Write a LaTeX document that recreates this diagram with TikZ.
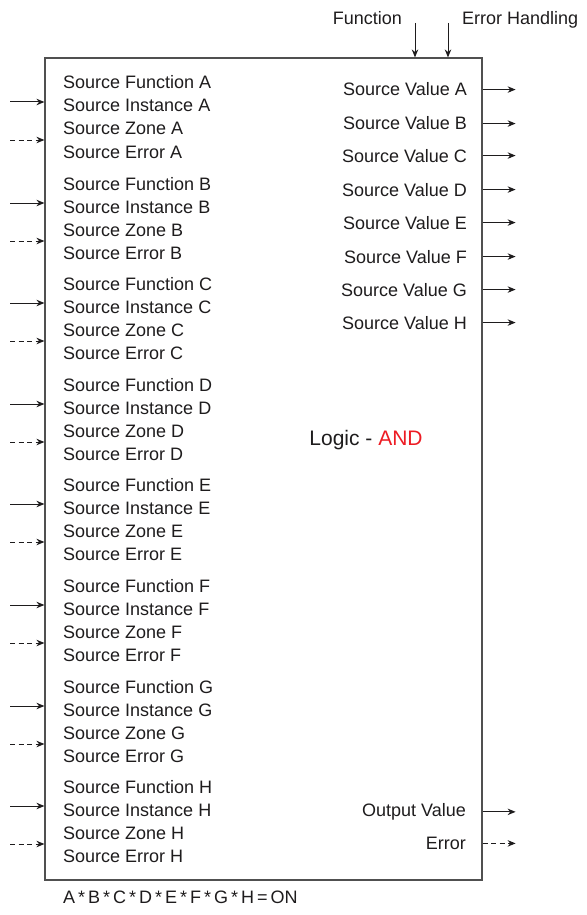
\documentclass[tikz,border=0pt]{standalone}
\usepackage{fontspec}
\setmainfont{Liberation Sans}
\usepackage{xcolor}
\usetikzlibrary{arrows.meta, calc}
\definecolor{txt}{RGB}{30,28,29}
\definecolor{frame}{RGB}{80,80,80}
\definecolor{andred}{RGB}{237,28,36}
\tikzset{
    box/.style={draw=frame, line width=1.2pt, minimum width=437pt, minimum height=822pt, inner sep=0pt},
    src/.style={font=\fontsize{18}{22}\selectfont, text=txt, inner sep=0pt, anchor=base west},
    val/.style={font=\fontsize{18}{22}\selectfont, text=txt, inner sep=0pt, anchor=base east},
    sig/.style={-{Stealth[length=8pt, width=6.5pt]}, line width=1pt, draw=txt},
    errsig/.style={sig, dash pattern=on 5pt off 3.5pt}
}

\begin{document}
\begin{tikzpicture}[x=1pt, y=-1pt]
        \useasboundingbox (0,0) rectangle (586,915);
        \node[box] (logic) at (263.5,469) {};
        \node[font=\fontsize{21}{25}\selectfont, text=txt, inner sep=0pt, anchor=base] (op) at (366,445.5) {Logic - \textcolor{andred}{AND}};

        % top inputs
        \node[val] (fn) at (402,24.5) {Function};
        \node[src] (eh) at (462,24.5) {Error Handling};
        \coordinate (fnIn) at (415,23);
        \coordinate (ehIn) at (448,23);
        \draw[sig] (fnIn) -- (fnIn |- logic.north);
        \draw[sig] (ehIn) -- (ehIn |- logic.north);

        % left inputs
        \node[src] (fA) at (63,89) {Source Function A};
        \node[src] (iA) at (63,112) {Source Instance A};
        \node[src] (zA) at (63,135) {Source Zone A};
        \node[src] (eA) at (63,158) {Source Error A};
        \node[src] (fB) at (63,190) {Source Function B};
        \node[src] (iB) at (63,213) {Source Instance B};
        \node[src] (zB) at (63,236) {Source Zone B};
        \node[src] (eB) at (63,259) {Source Error B};
        \node[src] (fC) at (63,290) {Source Function C};
        \node[src] (iC) at (63,313) {Source Instance C};
        \node[src] (zC) at (63,336) {Source Zone C};
        \node[src] (eC) at (63,359) {Source Error C};
        \node[src] (fD) at (63,391) {Source Function D};
        \node[src] (iD) at (63,414) {Source Instance D};
        \node[src] (zD) at (63,437) {Source Zone D};
        \node[src] (eD) at (63,460) {Source Error D};
        \node[src] (fE) at (63,491) {Source Function E};
        \node[src] (iE) at (63,514) {Source Instance E};
        \node[src] (zE) at (63,537) {Source Zone E};
        \node[src] (eE) at (63,560) {Source Error E};
        \node[src] (fF) at (63,592) {Source Function F};
        \node[src] (iF) at (63,615) {Source Instance F};
        \node[src] (zF) at (63,638) {Source Zone F};
        \node[src] (eF) at (63,661) {Source Error F};
        \node[src] (fG) at (63,693) {Source Function G};
        \node[src] (iG) at (63,716) {Source Instance G};
        \node[src] (zG) at (63,739) {Source Zone G};
        \node[src] (eG) at (63,762) {Source Error G};
        \node[src] (fH) at (63,793) {Source Function H};
        \node[src] (iH) at (63,816) {Source Instance H};
        \node[src] (zH) at (63,839) {Source Zone H};
        \node[src] (eH) at (63,862) {Source Error H};

        \coordinate (inA) at (10,102);  \coordinate (erA) at (10,140);
        \coordinate (inB) at (10,203);  \coordinate (erB) at (10,241);
        \coordinate (inC) at (10,303);  \coordinate (erC) at (10,341);
        \coordinate (inD) at (10,404);  \coordinate (erD) at (10,442);
        \coordinate (inE) at (10,504);  \coordinate (erE) at (10,542);
        \coordinate (inF) at (10,605);  \coordinate (erF) at (10,643);
        \coordinate (inG) at (10,706);  \coordinate (erG) at (10,744);
        \coordinate (inH) at (10,806);  \coordinate (erH) at (10,844);
        \draw[sig] (inA) -- (inA -| logic.west);
        \draw[errsig] (erA) -- (erA -| logic.west);
        \draw[sig] (inB) -- (inB -| logic.west);
        \draw[errsig] (erB) -- (erB -| logic.west);
        \draw[sig] (inC) -- (inC -| logic.west);
        \draw[errsig] (erC) -- (erC -| logic.west);
        \draw[sig] (inD) -- (inD -| logic.west);
        \draw[errsig] (erD) -- (erD -| logic.west);
        \draw[sig] (inE) -- (inE -| logic.west);
        \draw[errsig] (erE) -- (erE -| logic.west);
        \draw[sig] (inF) -- (inF -| logic.west);
        \draw[errsig] (erF) -- (erF -| logic.west);
        \draw[sig] (inG) -- (inG -| logic.west);
        \draw[errsig] (erG) -- (erG -| logic.west);
        \draw[sig] (inH) -- (inH -| logic.west);
        \draw[errsig] (erH) -- (erH -| logic.west);

        % right outputs
        \node[val] (vA) at (467,96) {Source Value A};
        \node[val] (vB) at (467,130) {Source Value B};
        \node[val] (vC) at (467,162) {Source Value C};
        \node[val] (vD) at (467,196) {Source Value D};
        \node[val] (vE) at (467,229) {Source Value E};
        \node[val] (vF) at (467,263) {Source Value F};
        \node[val] (vG) at (467,296) {Source Value G};
        \node[val] (vH) at (467,329) {Source Value H};
        \node[val] (out) at (466,816.5) {Output Value};
        \node[val] (err) at (466,849.5) {Error};

        \draw[sig] (vA -| logic.east) -- ++(33,0);
        \draw[sig] (vB -| logic.east) -- ++(33,0);
        \draw[sig] (vC -| logic.east) -- ++(33,0);
        \draw[sig] (vD -| logic.east) -- ++(33,0);
        \draw[sig] (vE -| logic.east) -- ++(33,0);
        \draw[sig] (vF -| logic.east) -- ++(33,0);
        \draw[sig] (vG -| logic.east) -- ++(33,0);
        \draw[sig] (vH -| logic.east) -- ++(33,0);
        \draw[sig] (out -| logic.east) -- ++(33,0);
        \draw[errsig] (err -| logic.east) -- ++(33,0);

        \node[src] (rule) at (63,903) {\spaceskip=3pt\relax A * B * C * D * E * F * G * H = ON};
    \end{tikzpicture}
\end{document}
